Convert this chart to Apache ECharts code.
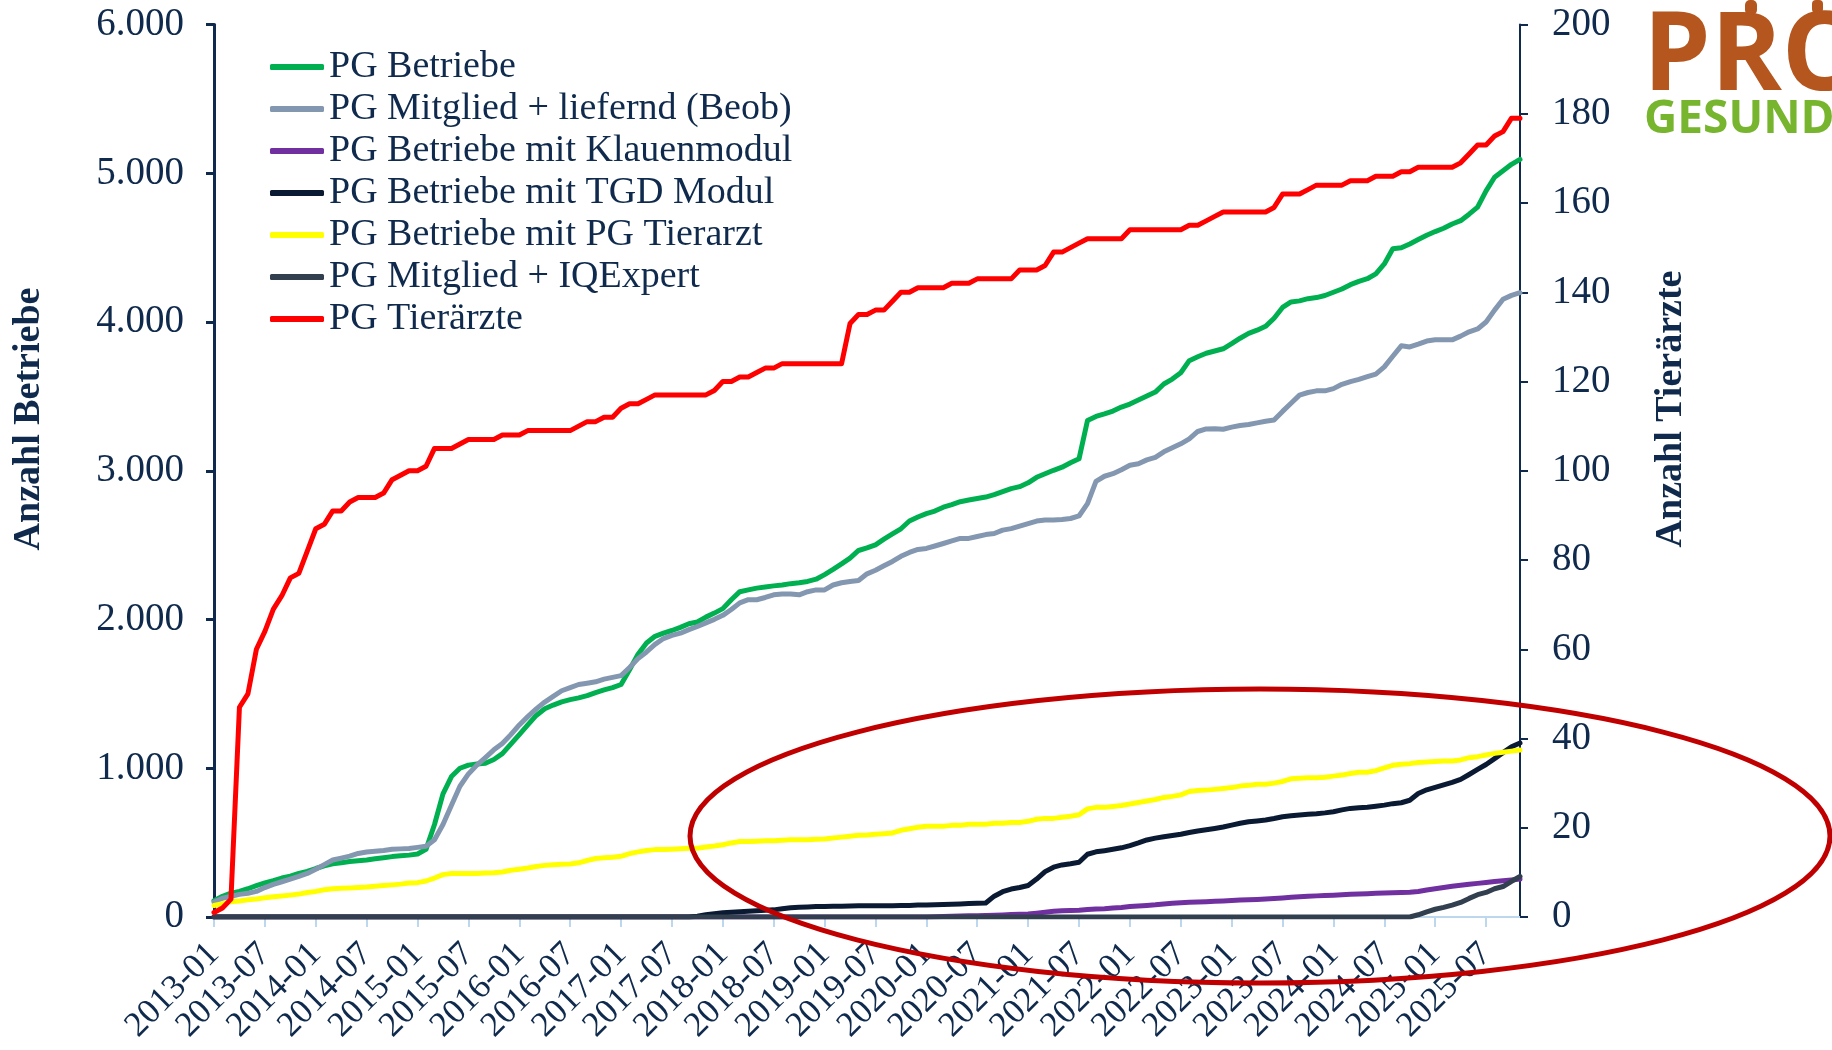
<!DOCTYPE html>
<html>
<head>
<meta charset="utf-8">
<script src="https://cdn.jsdelivr.net/npm/echarts@6/dist/echarts.min.js"></script>
<style>
  html, body { margin: 0; padding: 0; background: #fff; }
  #chart { width: 1832px; height: 1050px; }
</style>
</head>
<body>
<div id="chart"></div>
<script>
// Monate 2013-01 .. 2025-11
const monate = [];
for (let j = 2013; j <= 2025; j++) {
  for (let m = 1; m <= 12; m++) {
    if (j === 2025 && m > 11) break;
    monate.push(j + '-' + String(m).padStart(2, '0'));
  }
}

const pgBetriebe = [
  110,139,160,172,190,211,229,244,262,275,
  293,306,326,344,357,365,373,378,383,391,
  398,406,411,416,424,455,622,828,944,1000,
  1021,1028,1034,1059,1098,1162,1226,1291,1355,1400,
  1425,1446,1461,1473,1488,1509,1527,1542,1563,1662,
  1767,1842,1887,1908,1926,1947,1971,1983,2016,2043,
  2073,2133,2187,2199,2211,2218,2226,2232,2241,2247,
  2256,2271,2302,2337,2374,2413,2464,2481,2502,2540,
  2575,2610,2662,2689,2712,2729,2755,2772,2792,2803,
  2813,2823,2839,2860,2880,2893,2919,2956,2980,3003,
  3024,3054,3080,3338,3365,3382,3401,3428,3448,3475,
  3502,3529,3583,3616,3659,3740,3766,3790,3805,3820,
  3854,3891,3924,3945,3971,4025,4098,4135,4142,4157,
  4164,4178,4200,4222,4251,4273,4291,4324,4390,4492,
  4499,4525,4554,4583,4608,4630,4659,4681,4725,4772,
  4882,4973,5016,5060,5093
];

const pgMitgliedLiefernd = [
  100,126,139,152,159,172,198,219,237,255,
  273,293,321,352,383,396,409,427,437,442,
  447,455,458,460,468,476,519,622,751,879,
  962,1021,1072,1124,1167,1226,1291,1347,1399,1445,
  1483,1521,1542,1563,1572,1581,1599,1611,1623,1677,
  1737,1782,1833,1872,1893,1908,1932,1953,1977,2001,
  2028,2067,2112,2133,2133,2148,2166,2172,2172,2166,
  2187,2199,2199,2232,2247,2256,2262,2307,2331,2361,
  2390,2425,2451,2471,2478,2494,2511,2528,2545,2545,
  2558,2571,2578,2601,2611,2628,2645,2662,2669,2669,
  2672,2679,2696,2779,2929,2963,2980,3007,3037,3047,
  3073,3090,3127,3154,3181,3214,3264,3281,3283,3279,
  3293,3304,3311,3322,3333,3341,3399,3454,3508,3526,
  3537,3537,3552,3581,3599,3614,3632,3650,3698,3770,
  3840,3832,3851,3872,3880,3880,3880,3905,3934,3953,
  4000,4080,4153,4179,4197
];

const pgKlauenmodul = [
  0,0,0,0,0,0,0,0,0,0,
  0,0,0,0,0,0,0,0,0,0,
  0,0,0,0,0,0,0,0,0,0,
  0,0,0,0,0,0,0,0,0,0,
  0,0,0,0,0,0,0,0,0,0,
  0,0,0,0,0,0,0,0,0,0,
  0,0,0,0,0,0,0,0,0,0,
  0,0,0,0,0,0,0,0,0,0,
  0,0,0,0,0,2,4,5,6,8,
  9,10,12,14,16,18,20,26,32,38,
  42,44,46,50,54,56,60,64,70,74,
  78,82,88,92,96,99,101,103,106,108,
  111,114,116,118,121,124,128,132,136,139,
  142,144,147,150,153,155,157,159,161,163,
  165,167,172,182,190,198,207,214,220,226,
  232,238,243,249,255
];

const pgTgdModul = [
  0,0,0,0,0,0,0,0,0,0,
  0,0,0,0,0,0,0,0,0,0,
  0,0,0,0,0,0,0,0,0,0,
  0,0,0,0,0,0,0,0,0,0,
  0,0,0,0,0,0,0,0,0,0,
  0,0,0,0,0,0,0,5,15,22,
  28,32,35,38,42,45,48,55,62,65,
  68,70,71,72,73,74,75,75,76,76,
  76,77,78,80,81,82,84,86,88,90,
  92,94,140,170,188,198,212,255,305,335,
  350,358,368,422,438,446,455,465,480,498,
  518,530,540,548,556,568,578,586,595,605,
  618,630,640,646,652,662,674,680,686,690,
  694,700,708,720,730,734,738,745,752,762,
  768,785,830,855,872,888,905,925,958,992,
  1025,1065,1105,1145,1170
];

const pgMitTierarzt = [
  77,90,103,108,116,121,129,136,141,147,
  154,165,172,183,190,193,195,198,201,206,
  211,216,221,229,231,242,262,285,293,293,
  293,293,296,298,303,314,321,329,339,347,
  352,355,357,364,380,393,399,402,408,426,
  438,447,453,453,456,459,462,462,471,477,
  486,498,507,507,510,513,513,516,519,519,
  519,522,525,531,537,543,550,552,556,560,
  565,583,593,603,610,610,610,616,616,623,
  623,623,630,630,636,636,643,657,663,663,
  670,677,687,727,737,737,743,750,760,770,
  780,790,804,811,821,844,850,853,858,864,
  870,880,885,893,893,900,911,929,933,936,
  936,940,947,954,965,973,973,984,1002,1020,
  1027,1031,1038,1042,1046,1049,1049,1056,1071,1078,
  1089,1100,1107,1115,1122
];

const pgIqExpert = [
  0,0,0,0,0,0,0,0,0,0,
  0,0,0,0,0,0,0,0,0,0,
  0,0,0,0,0,0,0,0,0,0,
  0,0,0,0,0,0,0,0,0,0,
  0,0,0,0,0,0,0,0,0,0,
  0,0,0,0,0,0,0,0,0,0,
  0,0,0,0,0,0,0,0,0,0,
  0,0,0,0,0,0,0,0,0,0,
  0,0,0,0,0,0,0,0,0,0,
  0,0,0,0,0,0,0,0,0,0,
  0,0,0,0,0,0,0,0,0,0,
  0,0,0,0,0,0,0,0,0,0,
  0,0,0,0,0,0,0,0,0,0,
  0,0,0,0,0,0,0,0,0,0,
  0,0,15,35,52,65,80,98,125,150,
  165,190,205,240,272
];

const pgTieraerzte = [
  1,2,4,47,50,60,64,69,72,76,
  77,82,87,88,91,91,93,94,94,94,
  95,98,99,100,100,101,105,105,105,106,
  107,107,107,107,108,108,108,109,109,109,
  109,109,109,110,111,111,112,112,114,115,
  115,116,117,117,117,117,117,117,117,118,
  120,120,121,121,122,123,123,124,124,124,
  124,124,124,124,124,133,135,135,136,136,
  138,140,140,141,141,141,141,142,142,142,
  143,143,143,143,143,145,145,145,146,149,
  149,150,151,152,152,152,152,152,154,154,
  154,154,154,154,154,155,155,156,157,158,
  158,158,158,158,158,159,162,162,162,163,
  164,164,164,164,165,165,165,166,166,166,
  167,167,168,168,168,168,168,169,171,173,
  173,175,176,179,179
];

const serien = [
  { name: 'PG Betriebe', data: pgBetriebe, color: '#00B050', axis: 0 },
  { name: 'PG Mitglied + liefernd (Beob)', data: pgMitgliedLiefernd, color: '#8497B0', axis: 0 },
  { name: 'PG Betriebe mit Klauenmodul', data: pgKlauenmodul, color: '#7030A0', axis: 0 },
  { name: 'PG Betriebe mit TGD Modul', data: pgTgdModul, color: '#0B1A33', axis: 0 },
  { name: 'PG Betriebe mit PG Tierarzt', data: pgMitTierarzt, color: '#FFFF00', axis: 0 },
  { name: 'PG Mitglied + IQExpert', data: pgIqExpert, color: '#323F4F', axis: 0 },
  { name: 'PG Tierärzte', data: pgTieraerzte, color: '#FF0000', axis: 1 }
];

const navy = '#0F2A4C';
const serif = "'Liberation Serif', 'DejaVu Serif', serif";
const braun = '#B4561E';

const chart = echarts.init(document.getElementById('chart'));

chart.setOption({
  backgroundColor: '#ffffff',
  animation: false,
  grid: { left: 214, right: 312, top: 24.5, bottom: 133, containLabel: false, outerBoundsMode: 'none' },
  legend: {
    orient: 'vertical',
    left: 265,
    top: 41,
    icon: 'roundRect',
    itemWidth: 54,
    itemHeight: 6,
    itemGap: 0,
    textStyle: { fontFamily: serif, fontSize: 38, lineHeight: 42, color: navy },
    data: serien.map(s => s.name)
  },
  xAxis: {
    type: 'category',
    data: monate,
    boundaryGap: false,
    axisLine: { lineStyle: { color: '#BDD7EE', width: 2 } },
    axisTick: { interval: 5, length: 10, lineStyle: { color: '#BDD7EE', width: 2 } },
    axisLabel: {
      interval: 5,
      showMinLabel: true,
      hideOverlap: false,
      rotate: 45,
      margin: 32,
      fontFamily: serif,
      fontSize: 35,
      color: navy
    },
    splitLine: { show: false }
  },
  yAxis: [{
    type: 'value',
    position: 'left',
    min: 0,
    max: 6000,
    interval: 1000,
    axisLine: { show: true, lineStyle: { color: navy, width: 3 } },
    axisTick: { show: true, length: 8, lineStyle: { color: navy, width: 3 } },
    axisLabel: {
      margin: 30,
      fontFamily: serif,
      fontSize: 39,
      color: navy,
      formatter: v => v.toLocaleString('de-DE')
    },
    splitLine: { show: false }
  }, {
    type: 'value',
    position: 'right',
    min: 0,
    max: 200,
    interval: 20,
    axisLine: { show: true, lineStyle: { color: navy, width: 2 } },
    axisTick: { show: true, length: 8, lineStyle: { color: navy, width: 2 } },
    axisLabel: { margin: 32, fontFamily: serif, fontSize: 39, color: navy },
    splitLine: { show: false }
  }],
  series: serien.map(s => ({
    name: s.name,
    type: 'line',
    yAxisIndex: s.axis,
    data: s.data,
    symbol: 'none',
    color: s.color,
    lineStyle: { color: s.color, width: 5, cap: 'round', join: 'round' }
  })),
  graphic: [
    {
      type: 'text', x: 29, y: 419, rotation: Math.PI / 2,
      style: { text: 'Anzahl Betriebe', fontFamily: serif, fontSize: 38, fontWeight: 'bold', fill: navy, align: 'center', verticalAlign: 'middle' }
    },
    {
      type: 'text', x: 1671, y: 409, rotation: Math.PI / 2,
      style: { text: 'Anzahl Tierärzte', fontFamily: serif, fontSize: 38, fontWeight: 'bold', fill: navy, align: 'center', verticalAlign: 'middle' }
    },
    {
      type: 'ellipse', z: 100,
      shape: { cx: 1260, cy: 836, rx: 570, ry: 147 },
      style: { fill: 'none', stroke: '#C00000', lineWidth: 5 }
    },
    // Logo oben rechts
    {
      type: 'text', x: 1643, y: 59, scaleX: 0.98,
      style: { text: 'PRO', fontFamily: "'Open Sans'", fontSize: 110, fontWeight: 'bold', fill: braun, verticalAlign: 'middle' }
    },
    {
      type: 'text', x: 1644, y: 120,
      style: { text: 'GESUND', fontFamily: "'Open Sans'", fontSize: 46, fontWeight: 'bold', fill: '#77B52E', verticalAlign: 'middle' }
    },
    {
      type: 'rect', shape: { x: 1745, y: 0, width: 12, height: 15, r: 5 },
      style: { fill: braun }
    },
    {
      type: 'rect', shape: { x: 1812, y: 0, width: 11, height: 13, r: 4 },
      style: { fill: braun }
    }
  ]
});
</script>
</body>
</html>
